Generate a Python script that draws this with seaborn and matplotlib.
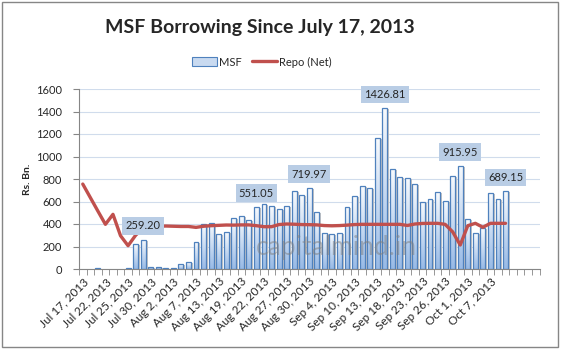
import matplotlib.pyplot as plt
import matplotlib.transforms as mtransforms
import numpy as np
import pandas as pd
import seaborn as sns
from matplotlib.colors import LinearSegmentedColormap
from matplotlib.lines import Line2D
from matplotlib.patches import Rectangle

sns.set_style('white')
plt.rc('font', family=['Lato', 'DejaVu Sans'], size=8)

# category labels, shown on every third trading day
dates = ['Jul 17, 2013', 'Jul 22, 2013', 'Jul 25, 2013', 'Jul 30, 2013',
         'Aug 2, 2013', 'Aug 7, 2013', 'Aug 13, 2013', 'Aug 19, 2013',
         'Aug 22, 2013', 'Aug 27, 2013', 'Aug 30, 2013', 'Sep 4, 2013',
         'Sep 10, 2013', 'Sep 13, 2013', 'Sep 18, 2013', 'Sep 23, 2013',
         'Sep 26, 2013', 'Oct 1, 2013', 'Oct 7, 2013']
n_cat = 61  # axis keeps a few empty days after the last one

msf = [0, 0, 5, 0, 0, 0, 5, 219, 259.20, 21,
       21, 6, 12, 41, 59, 237, 397, 406, 308, 326,
       450, 468, 433, 551.05, 575, 557, 530, 557, 690, 655,
       719.97, 504, 320, 310, 320, 548, 646, 735, 717, 1161,
       1426.81, 886, 815, 806, 753, 593, 622, 681, 607, 824,
       915.95, 441, 317, 362, 673, 620, 689.15]
repo = [755, 635, 515, 397, 486, 296, 207, 300, 365, 380,
        380, 382, 380, 378, 378, 370, 380, 385, 388, 391,
        390, 392, 392, 385, 376, 376, 395, 400, 398, 395,
        394, 392, 386, 384, 386, 390, 395, 397, 397, 397,
        397, 397, 397, 387, 400, 405, 406, 406, 397, 330,
        213, 385, 406, 371, 406, 406, 406]
label_idx = [8, 23, 30, 40, 50, 56]

df = pd.DataFrame({'day': np.arange(len(msf)), 'MSF': msf, 'Repo (Net)': repo})

fig = plt.figure(figsize=(5.62, 3.5), dpi=100)
ax = fig.add_axes([79 / 562, 1 - 269 / 350, 460.5 / 562, 180 / 350])

sns.barplot(data=df, x='day', y='MSF', color='#4F81BD', width=0.65,
            ax=ax, zorder=3)

# excel style gradient fill + drop shadow on each bar
cmap = LinearSegmentedColormap.from_list('msf', ['#98BAE6', '#F7FAFD'])
grad = np.linspace(0, 1, 64).reshape(-1, 1)
shift = mtransforms.ScaledTranslation(2 / 100, -1 / 100, fig.dpi_scale_trans)
for p in list(ax.patches):
    x0, y0 = p.get_xy()
    w, h = p.get_width(), p.get_height()
    if h <= 0:
        p.set_visible(False)
        continue
    p.set_facecolor('none')
    p.set_edgecolor('#4F81BD')
    p.set_linewidth(0.9)
    im = ax.imshow(grad, extent=(x0, x0 + w, y0, y0 + h), origin='lower',
                   cmap=cmap, aspect='auto', zorder=2.5)
    im.set_clip_path(p)
    ax.add_patch(Rectangle((x0, y0), w, h, facecolor='#C4C4C4',
                           edgecolor='none', transform=ax.transData + shift,
                           zorder=2))

sns.lineplot(data=df, x='day', y='Repo (Net)', color='#C0504D', linewidth=2.4,
             ax=ax, zorder=4, legend=False)

for i in label_idx:
    ax.annotate(f'{msf[i]:.2f}', (i, msf[i]), xytext=(0, 10),
                textcoords='offset points', ha='center', va='center',
                fontsize=8, zorder=6,
                bbox=dict(boxstyle='square,pad=0.3', fc='#B9CDE5', ec='none'))

ax.text(0.559, 0.12, 'capitalmind.in', transform=ax.transAxes, fontsize=19,
        color='#7F7F7F', alpha=0.5, ha='center', va='center', zorder=5)

ax.set_xlim(-0.5, n_cat - 0.5)
ax.set_ylim(0, 1600)
ax.set_yticks(range(0, 1601, 200))
ax.set_xticks(np.arange(0, n_cat, 3)[:len(dates)])
ax.set_xticklabels(dates, fontsize=8.5)
ax.set_xticks(np.arange(-0.5, n_cat, 1), minor=True)
ax.tick_params(axis='x', which='major', length=0, pad=5, bottom=True)
ax.tick_params(axis='x', which='minor', length=4, color='#868686',
               direction='out', bottom=True)
ax.tick_params(axis='y', length=4, color='#868686', direction='out',
               left=True, pad=8)
plt.setp(ax.get_xticklabels(), rotation=45, ha='right', rotation_mode='anchor')

ax.yaxis.grid(True, color='#D0DCEC', lw=0.8)
ax.set_axisbelow(True)
for s in ['top', 'right']:
    ax.spines[s].set_visible(False)
for s in ['left', 'bottom']:
    ax.spines[s].set_color('#868686')
    ax.spines[s].set_linewidth(0.8)

ax.set_xlabel('')
ax.set_ylabel('Rs. Bn.', fontweight='bold', fontsize=7.5)
ax.yaxis.set_label_coords(-0.102, 0.5)

fig.text(260 / 562, 1 - 27 / 350, 'MSF Borrowing Since July 17, 2013',
         ha='center', va='center', fontsize=14, fontweight='bold')

handles = [Rectangle((0, 0), 1, 1, facecolor='#C9DAF0', edgecolor='#4F81BD', lw=0.8),
           Line2D([], [], color='#C0504D', lw=2.4)]
fig.legend(handles, ['MSF', 'Repo (Net)'], loc='center',
           bbox_to_anchor=(262 / 562, 1 - 62 / 350), ncol=2, frameon=False,
           handlelength=2.2, handleheight=0.8, columnspacing=0.9,
           handletextpad=0.25, fontsize=8)

fig.add_artist(Rectangle((2 / 562, 3 / 350), 556 / 562, 345 / 350,
                         transform=fig.transFigure, fill=False,
                         ec='#868686', lw=1))

fig.savefig('out.png', dpi=100)
